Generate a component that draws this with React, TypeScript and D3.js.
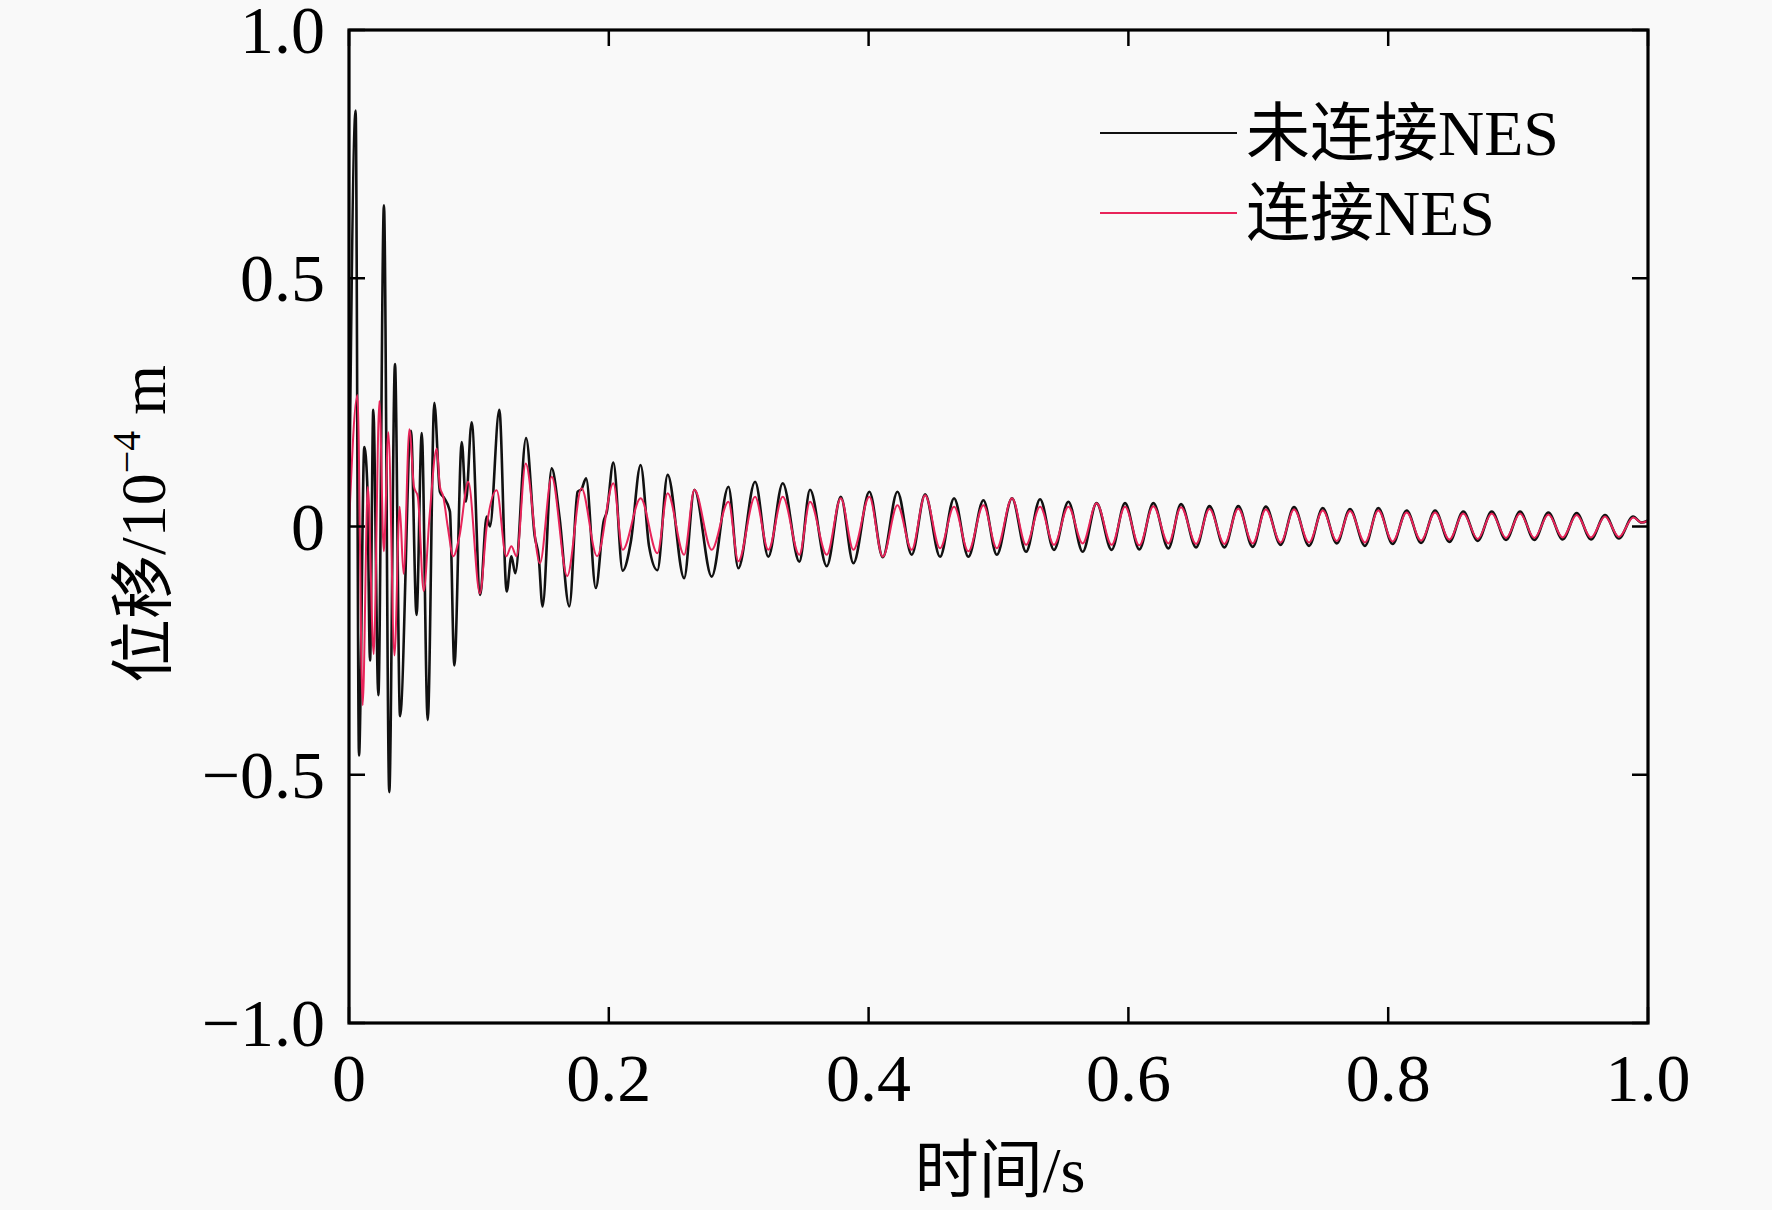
import React from "react";
import * as d3 from "d3";

// ---- Data ----
const xTickValues = [0, 0.2, 0.4, 0.6, 0.8, 1.0];
const xTickLabels = ["0", "0.2", "0.4", "0.6", "0.8", "1.0"];
const yTickValues = [-1, -0.5, 0, 0.5, 1];
const yTickLabels = ["\u22121.0", "\u22120.5", "0", "0.5", "1.0"];

const seriesNames = ["未连接NES", "连接NES"];
const seriesColors = ["#111111", "#e8245a"];

// 未连接NES (black): time (s), displacement (1e-4 m)
const blackT = [
  0, 0.0051, 0.0077, 0.0118, 0.014, 0.0162, 0.0187, 0.0226, 0.0269, 0.031,
  0.0354, 0.0393, 0.0477, 0.052, 0.056, 0.0606, 0.0657, 0.07, 0.0731, 0.0777,
  0.0811, 0.0868, 0.09, 0.0944, 0.101, 0.106, 0.1085, 0.1157, 0.1214, 0.125,
  0.128, 0.1363, 0.143, 0.146, 0.149, 0.156, 0.162, 0.1696, 0.176, 0.179,
  0.1825, 0.19, 0.196, 0.1985, 0.2035, 0.2107, 0.217, 0.2245, 0.231, 0.2374,
  0.2453, 0.258, 0.2659, 0.2792, 0.2921, 0.2997, 0.3126, 0.3228, 0.3339, 0.3467,
  0.3549, 0.3678, 0.3786, 0.3883, 0.4006, 0.4109, 0.4222, 0.4332, 0.4435, 0.455,
  0.4658, 0.4768, 0.4884, 0.4987, 0.5104, 0.5212, 0.532, 0.5427, 0.5538, 0.5648,
  0.5755, 0.5871, 0.5974, 0.6084, 0.6192, 0.6308, 0.6405, 0.6521, 0.6624, 0.6739,
  0.6846, 0.6957, 0.7058, 0.7172, 0.7275, 0.7391, 0.7496, 0.7604, 0.7706, 0.7821,
  0.7924, 0.8034, 0.8142, 0.8253, 0.8361, 0.8471, 0.8578, 0.8689, 0.8797, 0.8907,
  0.9015, 0.9125, 0.9233, 0.9343, 0.9451, 0.9561, 0.9669, 0.9776, 0.9885, 0.995,
  1.0,
];
const blackV = [
  0, 0.838, -0.461, 0.16, 0.09, -0.27, 0.235, -0.34, 0.647, -0.535,
  0.327, -0.382, 0.193, -0.178, 0.188, -0.39, 0.249, 0.07, 0.058, 0.03,
  -0.28, 0.17, 0.05, 0.21, -0.138, 0.02, 0.0, 0.235, -0.131, -0.06,
  -0.094, 0.178, -0.02, -0.06, -0.161, 0.117, 0.02, -0.161, 0.07, 0.075,
  0.097, -0.124, 0.01, 0.03, 0.129, -0.089, -0.03, 0.124, -0.04, -0.088,
  0.104, -0.104, 0.074, -0.101, 0.08, -0.084, 0.09, -0.061, 0.087, -0.071,
  0.074, -0.08, 0.06, -0.074, 0.07, -0.062, 0.07, -0.057, 0.065, -0.061,
  0.057, -0.061, 0.053, -0.057, 0.057, -0.051, 0.055, -0.047, 0.05, -0.051,
  0.047, -0.047, 0.047, -0.046, 0.047, -0.044, 0.045, -0.042, 0.041, -0.042,
  0.041, -0.041, 0.04, -0.037, 0.039, -0.039, 0.037, -0.034, 0.035, -0.039,
  0.037, -0.035, 0.032, -0.033, 0.032, -0.031, 0.03, -0.029, 0.03, -0.027,
  0.03, -0.027, 0.028, -0.026, 0.027, -0.026, 0.023, -0.024, 0.02, 0.008,
  0.012,
];

// 连接NES (red): time (s), displacement (1e-4 m)
const redT = [
  0, 0.0065, 0.0105, 0.0145, 0.019, 0.0234, 0.0268, 0.0303, 0.035, 0.039,
  0.042, 0.0465, 0.05, 0.053, 0.0575, 0.062, 0.0675, 0.07, 0.0726, 0.076,
  0.0803, 0.085, 0.0918, 0.1008, 0.106, 0.1137, 0.121, 0.125, 0.129, 0.136,
  0.147, 0.156, 0.168, 0.179, 0.191, 0.2035, 0.2107, 0.2245, 0.2374, 0.2453,
  0.258, 0.2659, 0.2792, 0.2921, 0.2997, 0.3126, 0.3228, 0.3339, 0.3467, 0.3549,
  0.3678, 0.3786, 0.3883, 0.4006, 0.4109, 0.4222, 0.4332, 0.4435, 0.455, 0.4658,
  0.4768, 0.4884, 0.4987, 0.5104, 0.5212, 0.532, 0.5427, 0.5538, 0.5648, 0.5755,
  0.5871, 0.5974, 0.6084, 0.6192, 0.6308, 0.6405, 0.6521, 0.6624, 0.6739, 0.6846,
  0.6957, 0.7058, 0.7172, 0.7275, 0.7391, 0.7496, 0.7604, 0.7706, 0.7821, 0.7924,
  0.8034, 0.8142, 0.8253, 0.8361, 0.8471, 0.8578, 0.8689, 0.8797, 0.8907, 0.9015,
  0.9125, 0.9233, 0.9343, 0.9451, 0.9561, 0.9669, 0.9776, 0.9887, 0.995, 1.0,
];
const redV = [
  0, 0.265, -0.36, 0.08, -0.257, 0.253, -0.05, 0.19, -0.26, 0.04,
  -0.095, 0.196, 0.08, 0.06, -0.13, 0.02, 0.157, 0.08, 0.06, 0.0,
  -0.06, -0.02, 0.09, -0.135, 0.0, 0.073, -0.06, -0.04, -0.06, 0.127,
  -0.074, 0.1, -0.1, 0.077, -0.06, 0.087, -0.047, 0.057, -0.054, 0.067,
  -0.057, 0.074, -0.047, 0.05, -0.07, 0.06, -0.047, 0.06, -0.057, 0.05,
  -0.057, 0.057, -0.047, 0.06, -0.061, 0.043, -0.047, 0.063, -0.044, 0.04,
  -0.05, 0.043, -0.044, 0.057, -0.037, 0.04, -0.037, 0.04, -0.034, 0.047,
  -0.037, 0.04, -0.038, 0.041, -0.034, 0.039, -0.035, 0.035, -0.035, 0.036,
  -0.034, 0.034, -0.032, 0.034, -0.032, 0.032, -0.029, 0.031, -0.032, 0.032,
  -0.03, 0.028, -0.028, 0.028, -0.026, 0.026, -0.025, 0.026, -0.023, 0.026,
  -0.023, 0.024, -0.022, 0.023, -0.022, 0.02, -0.021, 0.018, 0.008, 0.012,
];

const W = 1772;
const H = 1210;
const PL = 349;
const PR = 1648;
const PT = 30;
const PB = 1023;

const FONT = "'Liberation Serif', 'Times New Roman', 'Noto Sans CJK SC', serif";

export default function App() {
  const x = d3.scaleLinear().domain([0, 1]).range([PL, PR]);
  const y = d3.scaleLinear().domain([-1, 1]).range([PB, PT]);

  const line = d3
    .line<[number, number]>()
    .x((d) => x(d[0]))
    .y((d) => y(d[1]))
    .curve(d3.curveMonotoneX);

  const blackData: [number, number][] = blackT.map((t, i) => [t, blackV[i]]);
  const redData: [number, number][] = redT.map((t, i) => [t, redV[i]]);

  const tickLen = 16;

  return (
    <svg
      width={W}
      height={H}
      viewBox={`0 0 ${W} ${H}`}
      style={{ position: "absolute", left: 0, top: 0, display: "block" }}
      fontFamily={FONT}
    >
      <rect x={0} y={0} width={W} height={H} fill="#f9f9f9" />
      <defs>
        <clipPath id="plotClip">
          <rect x={PL} y={PT} width={PR - PL} height={PB - PT} />
        </clipPath>
      </defs>

      <g clipPath="url(#plotClip)">
        <path d={line(blackData) || ""} fill="none" stroke={seriesColors[0]} strokeWidth={2.6} strokeLinejoin="round" />
        <path d={line(redData) || ""} fill="none" stroke={seriesColors[1]} strokeWidth={2} strokeLinejoin="round" />
      </g>

      {/* ticks */}
      {xTickValues.map((v, i) => (
        <g key={"xt" + i}>
          <line x1={x(v)} x2={x(v)} y1={PB} y2={PB - tickLen} stroke="#000" strokeWidth={2.5} />
          <line x1={x(v)} x2={x(v)} y1={PT} y2={PT + tickLen} stroke="#000" strokeWidth={2.5} />
          <text x={x(v)} y={1101} textAnchor="middle" fontSize={68} fill="#000">
            {xTickLabels[i]}
          </text>
        </g>
      ))}
      {yTickValues.map((v, i) => (
        <g key={"yt" + i}>
          <line x1={PL} x2={PL + tickLen} y1={y(v)} y2={y(v)} stroke="#000" strokeWidth={2.5} />
          <line x1={PR} x2={PR - tickLen} y1={y(v)} y2={y(v)} stroke="#000" strokeWidth={2.5} />
          <text x={325} y={y(v) + 23} textAnchor="end" fontSize={68} fill="#000">
            {yTickLabels[i]}
          </text>
        </g>
      ))}

      {/* frame */}
      <rect x={PL} y={PT} width={PR - PL} height={PB - PT} fill="none" stroke="#000" strokeWidth={3.2} />

      {/* axis titles */}
      <text x={1000} y={1192} textAnchor="middle" fontSize={64} fill="#000">
        时间/s
      </text>
      <text transform="translate(165,524) rotate(-90)" textAnchor="middle" fontSize={64} fill="#000">
        位移/10
        <tspan dy={-25} fontSize={40}>{"\u22124"}</tspan>
        <tspan dy={25}>{" m"}</tspan>
      </text>

      {/* legend */}
      {seriesNames.map((name, i) => (
        <g key={"lg" + i}>
          <line x1={1100} x2={1237} y1={133 + i * 80} y2={133 + i * 80} stroke={seriesColors[i]} strokeWidth={2} />
          <text x={1246} y={155 + i * 80} fontSize={64} fill="#000">
            {name}
          </text>
        </g>
      ))}
    </svg>
  );
}
